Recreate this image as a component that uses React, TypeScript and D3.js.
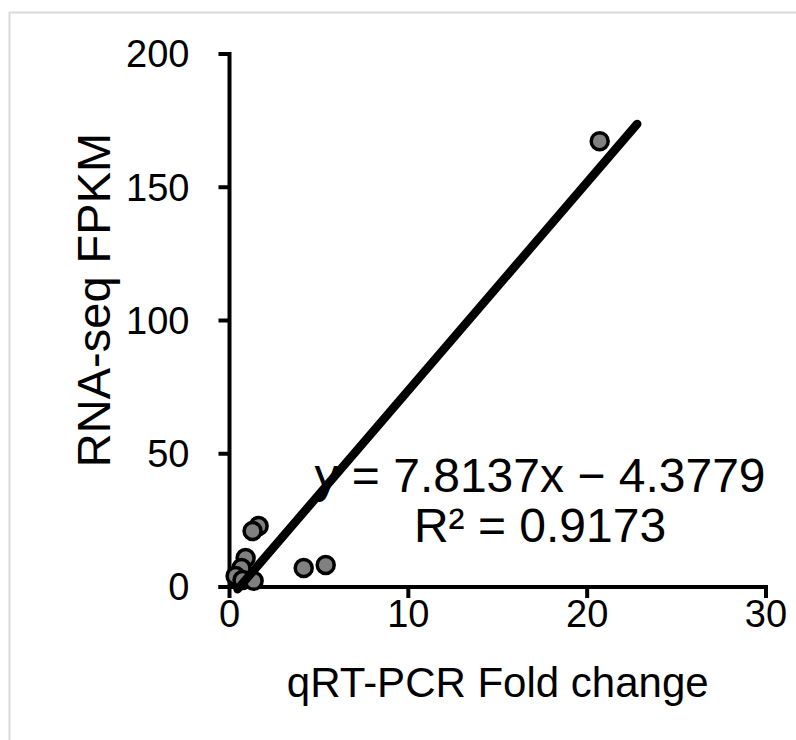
import React from "react";
import * as d3 from "d3";

// qRT-PCR fold change vs RNA-seq FPKM
const foldChange = [1.63, 1.29, 0.9, 0.67, 0.34, 0.73, 1.35, 4.15, 5.38, 20.7];
const fpkm = [22.9, 21.0, 10.9, 7.1, 4.1, 2.6, 2.3, 7.1, 8.3, 167.3];
const xTicks = [0, 10, 20, 30];
const yTicks = [0, 50, 100, 150, 200];
const slope = 7.8137;
const intercept = -4.3779;
const trendRange = [0.45, 22.8];
const eqLabel = "y = 7.8137x − 4.3779";
const r2Label = "R² = 0.9173";

const width = 796;
const height = 740;
const font = "Liberation Sans, Arial, sans-serif";

function App() {
  var x = d3.scaleLinear().domain([0, 30]).range([229.5, 766]);
  var y = d3.scaleLinear().domain([0, 200]).range([587, 54]);

  var points = foldChange.map((d, i) => ({ fx: d, fy: fpkm[i] }));

  var trend = d3
    .line<number>()
    .x((d) => x(d))
    .y((d) => y(slope * d + intercept));

  return (
    <svg
      width={width}
      height={height}
      style={{ position: "absolute", left: 0, top: 0, background: "#fff" }}
      fontFamily={font}
    >
      <rect x={9.5} y={12.5} width={800} height={800} fill="none" stroke="#d9d9d9" strokeWidth={2} />

      {/* y axis */}
      <line x1={x(0)} x2={x(0)} y1={y(200) - 2} y2={y(0) + 2} stroke="#000" strokeWidth={4} />
      {yTicks.map((t) => (
        <g key={"y" + t}>
          <line x1={x(0) - 11} x2={x(0)} y1={y(t)} y2={y(t)} stroke="#000" strokeWidth={4} />
          <text x={x(0) - 40} y={y(t)} dy="0.35em" textAnchor="end" fontSize={38}>
            {t}
          </text>
        </g>
      ))}

      {/* x axis */}
      <line x1={x(0) - 11} x2={x(30) + 2} y1={y(0)} y2={y(0)} stroke="#000" strokeWidth={4} />
      {xTicks.map((t) => (
        <g key={"x" + t}>
          <line x1={x(t)} x2={x(t)} y1={y(0)} y2={y(0) + 11} stroke="#000" strokeWidth={4} />
          <text x={x(t)} y={y(0) + 27} dy="0.35em" textAnchor="middle" fontSize={38}>
            {t}
          </text>
        </g>
      ))}

      <text x={(x(0) + x(30)) / 2} y={697} textAnchor="middle" fontSize={42}>
        qRT-PCR Fold change
      </text>
      <text
        transform={`translate(110,300) rotate(-90)`}
        textAnchor="middle"
        fontSize={47}
      >
        RNA-seq FPKM
      </text>

      {points.map((p, i) => (
        <circle
          key={i}
          cx={x(p.fx)}
          cy={y(p.fy)}
          r={8.5}
          fill="#808080"
          stroke="#000"
          strokeWidth={3.5}
        />
      ))}

      <path d={trend(trendRange) || ""} stroke="#000" strokeWidth={8.5} strokeLinecap="round" fill="none" />

      <text x={540} y={492} textAnchor="middle" fontSize={48}>
        {eqLabel}
      </text>
      <text x={540} y={542} textAnchor="middle" fontSize={48}>
        {r2Label}
      </text>
    </svg>
  );
}

export default App;
